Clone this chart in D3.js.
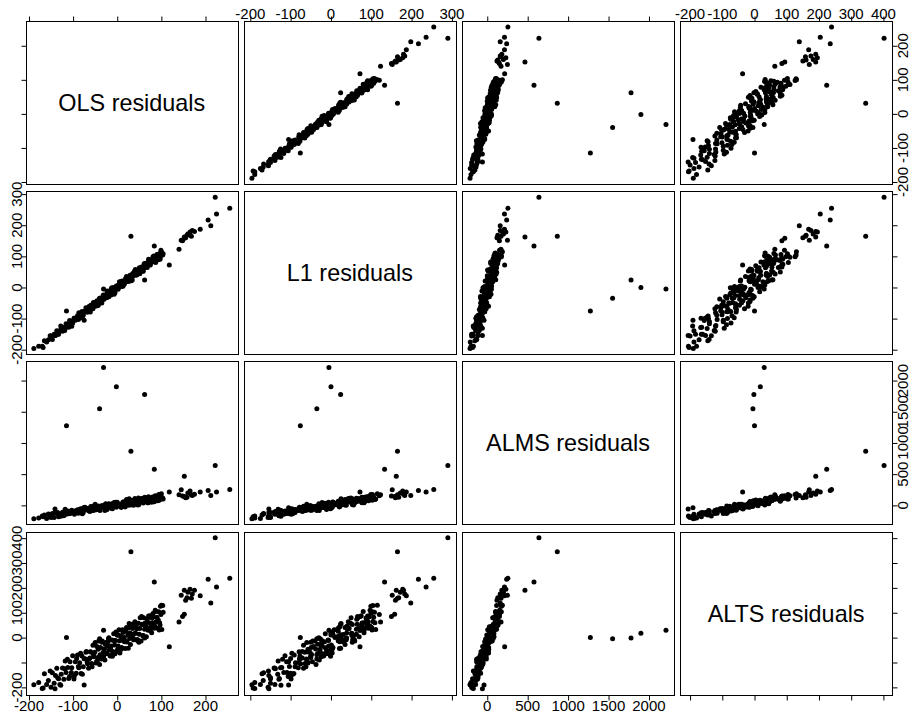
<!DOCTYPE html>
<html>
<head>
<meta charset="utf-8" />
<title>Residual pairs plot</title>
<script src="https://d3js.org/d3.v7.min.js"></script>
<style>
html, body { margin: 0; padding: 0; background: #fff; }
svg { display: block; }
text { font-family: "Liberation Sans", Arial, Helvetica, sans-serif; fill: #000; }
.tick line { stroke: #000; stroke-width: 1; }
.box { fill: none; stroke: #000; stroke-width: 1; }
</style>
</head>
<body>
<script>
// residuals of the four fits, one entry per observation (same order in every array)
let ols = [
  -178,-170,-165,-160,-156,-150,-147,-143,-140,-137,
  -133,-130,-127,-124,-121,-118,-116,-112,-110,-107,
  -104,-101,-98,-95,-93,-90,-88,-85,-82,-80,
  -77,-73,-70,-68,-65,-62,-60,-58,-55,-53,
  -51,-48,-46,-44,-42,-40,-38,-36,-34,-32,
  -30,-28,-26,-24,-22,-20,-18,-16,-14,-12,
  -10,-8,-6,-4,-2,0,2,4,6,8,
  10,12,14,16,18,20,22,24,26,28,
  30,33,35,37,40,42,44,46,48,50,
  52,54,56,58,60,62,64,66,68,70,
  72,74,76,78,80,82,84,86,88,90,
  92,94,96,98,101,104,
  222,31,84,152,255,206,225,212,188,140,
  148,152,118,-115,-40,62,-2,-31,-189,100,
  160,165,170,158,175,145,155,168,-75,-141,
  -168,-152,-135,-128,-119,-113,-108,-103,-97,-92,
  -87,-83,-79,-75,-71,-67,-64,-61,-57,-54,
  -50,-47,-43,-39,-35,-31,-27,-23,-19,-15,
  -11,-7,-3,1,5,9,13,17,21,25,
  29,32,36,39,43,47,51,55,59,63,
  67,71,75,79,83,87,91,95,99,103,
  -45,-29,-13,3,19,34,49,61,73,85,
  93,-21,-5,11,27,41,57,69,81,97
];
let l1 = [
  -189,-189,-171,-175,-168,-156,-167,-150,-154,-139,
  -150,-139,-132,-141,-129,-131,-117,-122,-128,-110,
  -109,-114,-99,-105,-100,-91,-103,-88,-92,-77,
  -89,-78,-71,-80,-68,-71,-57,-64,-68,-51,
  -52,-57,-43,-50,-45,-37,-49,-35,-40,-26,
  -38,-29,-23,-33,-22,-26,-11,-18,-24,-7,
  -8,-14,1,-6,-2,6,-6,8,3,18,
  5,14,20,10,21,18,32,25,19,36,
  35,31,45,38,43,51,40,54,49,63,
  50,59,65,56,67,63,77,70,64,82,
  81,75,89,82,86,95,83,97,92,106,
  93,103,109,99,111,108,
  290,165,133,162,255,217,236,198,187,123,
  150,158,72,-76,-35,24,0,-5,-196,115,
  172,178,183,168,180,152,160,165,-105,-154,
  -193,-155,-150,-124,-138,-120,-106,-125,-99,-100,
  -81,-97,-95,-77,-65,-75,-61,-79,-62,-48,
  -60,-46,-57,-35,-50,-24,-33,-11,-30,-14,
  -1,-22,3,0,18,3,4,22,35,24,
  39,22,39,52,40,56,44,66,52,77,
  68,91,72,87,101,80,104,102,120,104,
  -59,-27,-2,0,29,24,53,76,73,97,
  89,-16,-17,21,25,58,53,77,99,91
];
let alms = [
  -201,-172,-153,-210,-139,-193,-130,-193,-113,-129,
  -182,-144,-143,-111,-167,-61,-143,-89,-134,-132,
  -91,-89,-119,-115,-82,-72,-128,-67,-117,-58,
  -113,-31,-67,-52,-85,-98,-18,-84,-14,-80,
  -8,-68,-57,-32,-17,-57,-45,-11,-22,-9,
  -19,-84,24,-42,2,-20,15,-33,-38,27,
  -24,35,-21,51,-30,51,6,6,16,18,
  17,21,54,29,-26,67,16,50,38,73,
  5,71,66,0,110,44,81,16,116,56,
  67,61,78,67,81,115,69,84,107,42,
  126,104,103,50,135,116,59,153,102,129,
  73,174,94,175,100,103,
  639,866,578,466,256,240,213,160,213,170,
  150,140,215,1275,1550,1778,1900,2210,-213,187,
  200,230,160,130,180,250,120,170,-40,-60,
  -182,-172,-115,-174,-98,-132,-129,-79,-141,-115,
  -82,-55,-134,-34,-58,-54,-79,-78,-70,-78,
  16,-72,-10,-81,-7,-13,-27,-66,27,-5,
  -53,46,28,18,3,-33,52,-9,92,0,
  69,26,43,82,56,4,88,109,36,128,
  75,137,67,81,102,103,145,83,152,116,
  -57,6,-45,-6,39,79,14,122,107,121,
  102,-32,-10,-4,105,29,105,43,127,134
];
let alts = [
  -180,-205,-145,-188,-172,-200,-141,-183,-152,-123,
  -165,-188,-147,-122,-167,-94,-140,-120,-164,-97,
  -140,-73,-166,-97,-143,-70,-116,-101,-144,-74,
  -117,-85,-56,-100,-123,-82,-58,-104,-31,-77,
  -59,-102,-36,-80,-14,-108,-40,-86,-14,-60,
  -46,-90,-20,-64,-34,-6,-50,-74,-34,-10,
  -56,16,-30,-12,-56,10,-34,32,-62,6,
  -40,32,-14,0,-44,26,-18,12,40,-4,
  -28,13,37,-9,64,18,36,-8,58,14,
  80,-14,54,8,80,34,48,4,74,30,
  60,88,44,20,60,84,38,110,64,82,
  38,104,60,126,33,102,
  402,345,224,190,239,235,204,139,168,63,
  85,94,-37,0,-5,-2,18,30,-190,130,
  182,195,175,160,190,170,150,158,-191,-206,
  -203,-134,-161,-192,-125,-87,-156,-121,-153,-84,
  -121,-63,-147,-85,-59,-105,-86,-57,-117,-68,
  -20,-97,-47,-69,-19,-77,-27,-65,-1,-41,
  -75,-13,23,-47,-13,-47,21,-17,41,-43,
  19,44,-2,17,47,-13,37,85,9,59,
  37,87,29,79,41,105,65,31,93,129,
  -93,-47,-69,11,-15,54,-19,51,85,47,
  71,-17,-65,-3,57,-9,53,39,97,51
];

let varNames = ['OLS residuals', 'L1 residuals', 'ALMS residuals', 'ALTS residuals'];
// tick values per variable, and which of them get a label on the x / y sides
let tickVals = [
  [-200, -100, 0, 100, 200],
  [-200, -100, 0, 100, 200, 300],
  [0, 500, 1000, 1500, 2000],
  [-200, -100, 0, 100, 200, 300, 400]
];
let xLabels = [
  [-200, -100, 0, 100, 200],
  [-200, -100, 0, 100, 200, 300],
  [0, 500, 1000, 1500, 2000],
  [-200, -100, 0, 100, 200, 300, 400]
];
let yLabels = [
  [-200, -100, 0, 100, 200],
  [-200, -100, 0, 100, 200, 300],
  [0, 500, 1000, 1500, 2000],
  [-200, 0, 100, 200, 300, 400]
];

let width = 909, height = 721;
let marginLeft = 26, marginTop = 21, pw = 211.6, ph = 163.3, stepX = 218.1, stepY = 170.2;
let vars = [ols, l1, alms, alts];
let n = vars.length;

let svg = d3.select('body').append('svg').attr('width', width).attr('height', height);

// R style 4% range extension
let dom = function(v) {
    let e = d3.extent(v), p = (e[1] - e[0]) * 0.04;
    return [e[0] - p, e[1] + p];
};
let xs = vars.map((v, j) => d3.scaleLinear().domain(dom(v)).range([marginLeft + j * stepX, marginLeft + j * stepX + pw]));
let ys = vars.map((v, i) => d3.scaleLinear().domain(dom(v)).range([marginTop + i * stepY + ph, marginTop + i * stepY]));

let idx = d3.range(ols.length);

for (let i = 0; i < n; i++) {
    for (let j = 0; j < n; j++) {
        let x0 = marginLeft + j * stepX, y0 = marginTop + i * stepY;
        let g = svg.append('g');
        if (i === j) {
            g.append('text').attr('x', x0 + pw / 2).attr('y', y0 + ph / 2 + 8.4)
                .attr('text-anchor', 'middle').style('font-size', '23.4px').text(varNames[i]);
        } else {
            g.selectAll('circle').data(idx).enter().append('circle')
                .attr('cx', (k) => xs[j](vars[j][k]))
                .attr('cy', (k) => ys[i](vars[i][k]))
                .attr('r', 2.5).attr('fill', '#000');
        }
        g.append('rect').attr('class', 'box')
            .attr('x', Math.round(x0) + 0.5).attr('y', Math.round(y0) + 0.5)
            .attr('width', Math.round(pw)).attr('height', Math.round(ph));
    }
}

// tick marks on all outer sides
let bottomY = Math.round(marginTop + (n - 1) * stepY + ph) + 0.5;
let topY = Math.round(marginTop) + 0.5;
let leftX = Math.round(marginLeft) + 0.5;
let rightX = Math.round(marginLeft + (n - 1) * stepX + pw) + 0.5;
for (let j = 0; j < n; j++) {
    let a = svg.append('g').attr('transform', 'translate(0,' + topY + ')')
        .call(d3.axisTop(xs[j]).tickValues(tickVals[j]).tickSize(5).tickFormat(''));
    let b = svg.append('g').attr('transform', 'translate(0,' + bottomY + ')')
        .call(d3.axisBottom(xs[j]).tickValues(tickVals[j]).tickSize(5).tickFormat(''));
    let c = svg.append('g').attr('transform', 'translate(' + leftX + ',0)')
        .call(d3.axisLeft(ys[j]).tickValues(tickVals[j]).tickSize(5).tickFormat(''));
    let d = svg.append('g').attr('transform', 'translate(' + rightX + ',0)')
        .call(d3.axisRight(ys[j]).tickValues(tickVals[j]).tickSize(5).tickFormat(''));
    [a, b, c, d].forEach((ax) => ax.select('.domain').remove());
}

// labels alternate sides, as pairs() does
for (let j = 0; j < n; j++) {
    if (j % 2 === 1) {
        svg.selectAll(null).data(xLabels[j]).enter().append('text')
            .attr('x', (v) => xs[j](v)).attr('y', topY - 2.5)
            .attr('text-anchor', 'middle').style('font-size', '15px').text((v) => v);
    } else {
        svg.selectAll(null).data(xLabels[j]).enter().append('text')
            .attr('x', (v) => xs[j](v)).attr('y', bottomY + 15.5)
            .attr('text-anchor', 'middle').style('font-size', '15px').text((v) => v);
    }
}
for (let i = 0; i < n; i++) {
    if (i % 2 === 1) {
        svg.selectAll(null).data(yLabels[i]).enter().append('text')
            .attr('transform', (v) => 'translate(' + (leftX - 4.3) + ',' + ys[i](v) + ') rotate(-90)')
            .attr('text-anchor', 'middle').style('font-size', '15px').text((v) => v);
    } else {
        svg.selectAll(null).data(yLabels[i]).enter().append('text')
            .attr('transform', (v) => 'translate(' + (rightX + 15) + ',' + ys[i](v) + ') rotate(-90)')
            .attr('text-anchor', 'middle').style('font-size', '15px').text((v) => v);
    }
}
</script>
</body>
</html>
